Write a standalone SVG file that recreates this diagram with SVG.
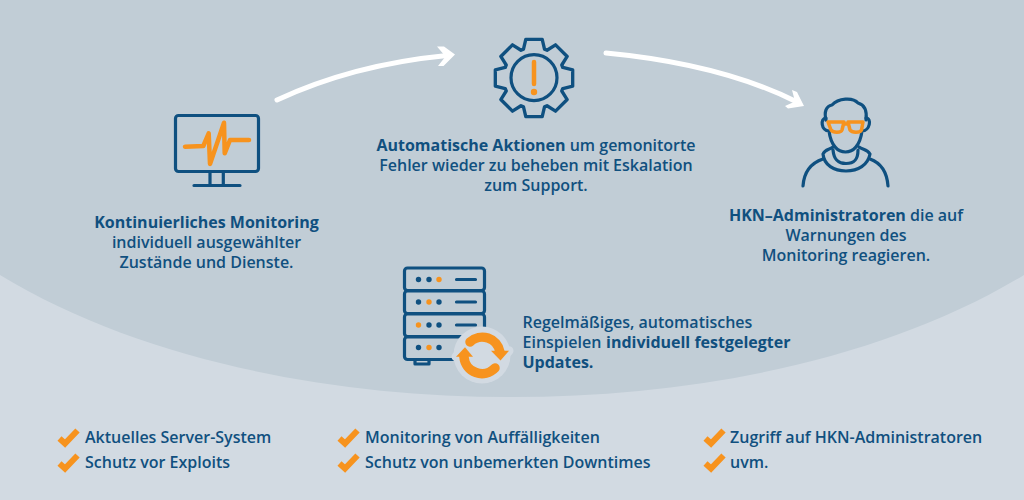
<svg xmlns="http://www.w3.org/2000/svg" width="1024" height="500" viewBox="0 0 1024 500">
<style>
.t{font-family:"Open Sans","Noto Sans","Liberation Sans",sans-serif;font-size:16px;fill:#10507f;font-weight:600}
.m{text-anchor:middle}
.b{font-weight:700}
.l{font-family:"Open Sans","Noto Sans","Liberation Sans",sans-serif;font-size:16px;fill:#10507f;font-weight:600}
.n{fill:none;stroke:#0f5080;stroke-width:3.200;stroke-linecap:round;stroke-linejoin:round}
.o{fill:none;stroke:#f7931e;stroke-linecap:round;stroke-linejoin:round}
.w{fill:none;stroke:#fff;stroke-width:5;stroke-linecap:round}
.d{fill:#0f5080}.f{fill:#f7931e}
</style>
<defs>
<path id="c" d="M-9.500 1.500L-4 6.500L8.500 -6.500" fill="none" stroke="#f7931e" stroke-width="6" stroke-linejoin="miter"/>
</defs>
<rect width="1024" height="500" fill="#d2dae2"/>
<path d="M0 275C140 360 330 397 512 397C694 397 884 360 1024 275V0H0Z" fill="#c1cdd6"/>
<g id="connectors">
<path class="w" d="M277 100C335 73 390 61 447 55.500"/>
<path fill="#fff" d="M437 46.500H444L455 54.500L443.500 66H438L445.500 56.500Z"/>
<path class="w" d="M606 53C680 60 745 76 797 102"/>
<path fill="#fff" d="M792 90L797 92L804 106L788 108.500L785 106L795 101.500Z"/>
</g>
<g id="monitoring">
<rect class="n" x="175.500" y="115.500" width="83" height="56" rx="3"/>
<path class="n" d="M210 172V185.500M223.300 172V185.500M194 185.500H240"/>
<path class="o" stroke-width="4.500" d="M185 146.700L203.300 146L208.700 133.300L210 164L224 122.700L224.700 153.300L230 140H249"/>
<text class="t m"><tspan class="b" x="206.500" y="228">Kontinuierliches Monitoring</tspan><tspan x="206.500" y="248">individuell ausgewählter</tspan><tspan x="206.500" y="268">Zustände und Dienste.</tspan></text>
</g>
<g id="aktionen">
<path class="n" transform="translate(534 78) scale(1.04)" stroke-width="3.100" d="M-10.100 -27.700L-7.900 -37.200H7.900L10.100 -27.700L12.500 -26.700L20.700 -31.900L31.900 -20.700L26.700 -12.500L27.700 -10.100L37.200 -7.900V7.900L27.700 10.100L26.700 12.500L31.900 20.700L20.700 31.900L12.500 26.700L10.100 27.700L7.900 37.200H-7.900L-10.100 27.700L-12.500 26.700L-20.700 31.900L-31.900 20.700L-26.700 12.500L-27.700 10.100L-37.200 7.900V-7.900L-27.700 -10.100L-26.700 -12.500L-31.900 -20.700L-20.700 -31.900L-12.500 -26.700Z"/>
<circle class="n" cx="534" cy="77.700" r="23"/>
<path class="o" stroke-width="4.500" d="M534 62V84"/>
<circle class="f" cx="534" cy="92" r="3.200"/>
<text class="t m"><tspan x="536" y="151"><tspan class="b">Automatische Aktionen</tspan> um gemonitorte</tspan><tspan x="536" y="171">Fehler wieder zu beheben mit Eskalation</tspan><tspan x="536" y="191">zum Support.</tspan></text>
</g>
<g id="administratoren">
<path class="n" d="M826 120C824 112 826 106 832 105C838 98 853 97 858 103C865 105 867 112 866 120"/>
<path class="n" d="M826 118C820 118 821 131 829 131C831 146 838 152 845.500 152C853 152 860 146 862 131C870 131 872 118 866 118"/>
<path class="n" d="M833 147C829 150 825 149 823 154C824 165 834 171 846 171C858 171 868 165 870 154C867 149 863 150 859 147M833 150C834 160 838 163.500 846 163.500C854 163.500 858 160 858 150M823 159C811 163 804 172 803 186M870 159C881 163 887 172 888 186"/>
<path class="o" stroke-width="3.500" d="M828 122H844L842 130C841 133 833 133 831 130ZM848 122H863L861.500 130C860 133 852 133 850 130ZM844 124L848 124"/>
<text class="t m"><tspan x="846" y="221"><tspan class="b">HKN–Administratoren</tspan> die auf</tspan><tspan x="846" y="241">Warnungen des</tspan><tspan x="846" y="261">Monitoring reagieren.</tspan></text>
</g>
<g id="server">
<rect class="n" x="404.500" y="268" width="80" height="22.500" rx="3"/>
<rect class="n" x="404.500" y="291" width="80" height="22.500" rx="3"/>
<rect class="n" x="404.500" y="314" width="80" height="22.500" rx="3"/>
<rect class="n" x="404.500" y="337" width="80" height="22.500" rx="3"/>
<path class="n" d="M415 360V364H429V360"/>
<path class="n" d="M456.500 279.500H475.500M456.500 302H475.500M456.500 325H475.500M456.500 347.500H458"/>
<circle class="d" cx="418.500" cy="279.500" r="2.700"/><circle class="d" cx="429" cy="279.500" r="2.700"/><circle class="f" cx="439" cy="279.500" r="2.700"/>
<circle class="d" cx="418.500" cy="302" r="2.700"/><circle class="f" cx="429" cy="302" r="2.700"/><circle class="d" cx="439" cy="302" r="2.700"/>
<circle class="f" cx="418.500" cy="325" r="2.700"/><circle class="d" cx="429" cy="325" r="2.700"/><circle class="d" cx="439" cy="325" r="2.700"/>
<circle class="d" cx="418.500" cy="347.500" r="2.700"/><circle class="f" cx="429" cy="347.500" r="2.700"/><circle class="d" cx="439" cy="347.500" r="2.700"/>
<circle cx="482" cy="355" r="28.500" fill="#d2dae2"/>
<path fill="#d2dae2" stroke="#d2dae2" stroke-width="9" stroke-linejoin="round" d="M494 350.700H509L501 360ZM456 356.700H473L465 347.300Z"/>
<path class="o" stroke-width="9.500" stroke-linecap="butt" d="M470 342A18 18 0 0 1 500 352"/>
<path class="f" d="M491 350.700H509L500.500 360.500Z"/>
<path class="o" stroke-width="9.500" stroke-linecap="butt" d="M495 368A18 18 0 0 1 464 357"/>
<path class="f" d="M456 356.700H473L465 347.300Z"/>
<text class="t" x="522.500" y="328">Regelmäßiges, automatisches</text>
<text class="t" x="522.500" y="348">Einspielen</text>
<text class="t b" x="606" y="348">individuell festgelegter</text>
<text class="t b" x="522.500" y="368">Updates.</text>
</g>
<g id="features">
<use href="#c" x="69" y="437"/><text class="l" x="85" y="443">Aktuelles Server-System</text>
<use href="#c" x="69" y="462"/><text class="l" x="85" y="468">Schutz vor Exploits</text>
<use href="#c" x="349" y="437"/><text class="l" x="365" y="443">Monitoring von Auffälligkeiten</text>
<use href="#c" x="349" y="462"/><text class="l" x="365" y="468">Schutz von unbemerkten Downtimes</text>
<use href="#c" x="715" y="437"/><text class="l" x="730" y="443">Zugriff auf HKN-Administratoren</text>
<use href="#c" x="715" y="462"/><text class="l" x="730" y="468">uvm.</text>
</g>
</svg>
